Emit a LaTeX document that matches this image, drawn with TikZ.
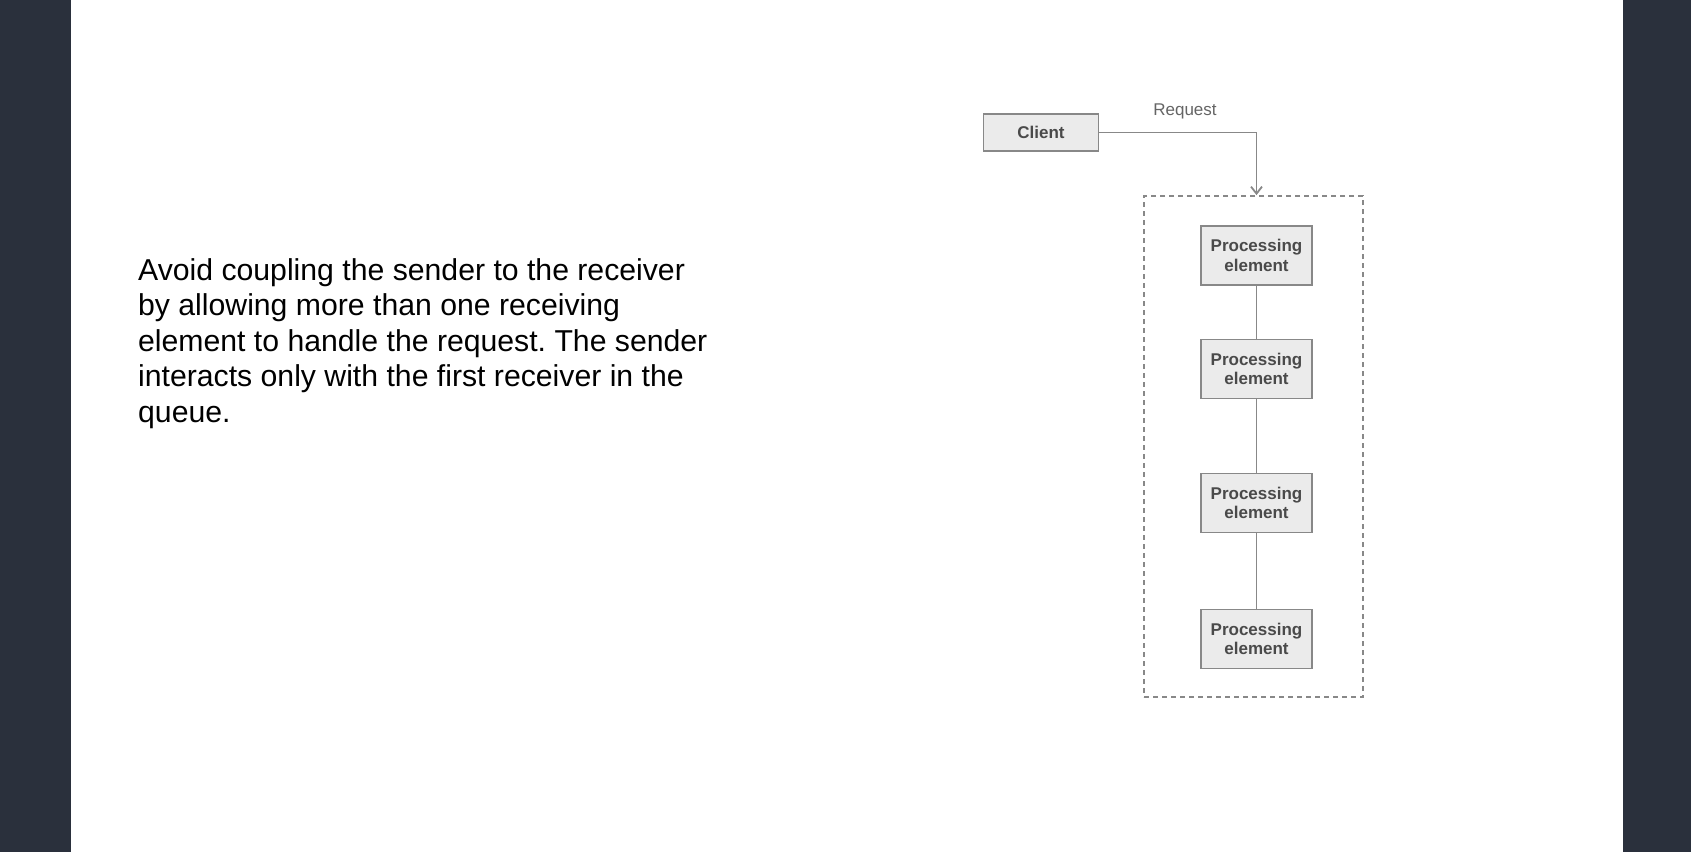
\documentclass[tikz,border=0pt]{standalone}
\usepackage{fontspec}
\setmainfont{Liberation Sans}
\usetikzlibrary{arrows.meta,positioning,fit}
\definecolor{slate}{HTML}{2A303C}
\definecolor{boxline}{HTML}{888888}
\definecolor{boxfill}{HTML}{EBEBEB}
\definecolor{boxtext}{HTML}{4A4A4A}
\frenchspacing

\begin{document}
\begin{tikzpicture}[x=1pt,y=-1pt]
\tikzstyle{proc}=[rectangle,draw=boxline,fill=boxfill,line width=1.8pt,minimum width=111pt,minimum height=59pt,inner sep=0pt,align=center,text=boxtext,font=\fontsize{17}{19.3}\selectfont\bfseries]
\tikzstyle{cli}=[proc,minimum width=115pt,minimum height=37pt]
\tikzstyle{wire}=[draw=boxline,line width=1.8pt]
\useasboundingbox (0,0) rectangle (1691,852);
\fill[slate] (0,0) rectangle (1691,852);
\fill[white] (71,0) rectangle (1623,852);
% description
\node [anchor=north west,align=left,inner sep=0pt,font=\fontsize{30.2}{35.6}\selectfont] (desc) at (138,258) {Avoid coupling the sender to the receiver\\by allowing more than one receiving\\element to handle the request. The sender\\interacts only with the first receiver in the\\queue.};
% diagram
\node [cli] (client) at (1041,132.5) {Client};
\node [text=boxtext!85,font=\fontsize{17}{20}\selectfont] (req) at (1185,111) {Request};
\node [rectangle,draw=boxline,line width=1.8pt,dash pattern=on 5pt off 4pt,minimum width=219pt,minimum height=501pt] (chain) at (1253.5,446.5) {};
\node [proc] (p1) at (1256.5,255.5) {Processing\\element};
\node [proc] (p2) at (1256.5,369) {Processing\\element};
\node [proc] (p3) at (1256.5,503) {Processing\\element};
\node [proc] (p4) at (1256.5,639) {Processing\\element};
\draw [wire,-{Straight Barb[length=7pt,width=11pt]}] (client.east) -| (p1 |- chain.north);
\draw [wire] (p1) -- (p2);
\draw [wire] (p2) -- (p3);
\draw [wire] (p3) -- (p4);
\end{tikzpicture}
\end{document}
